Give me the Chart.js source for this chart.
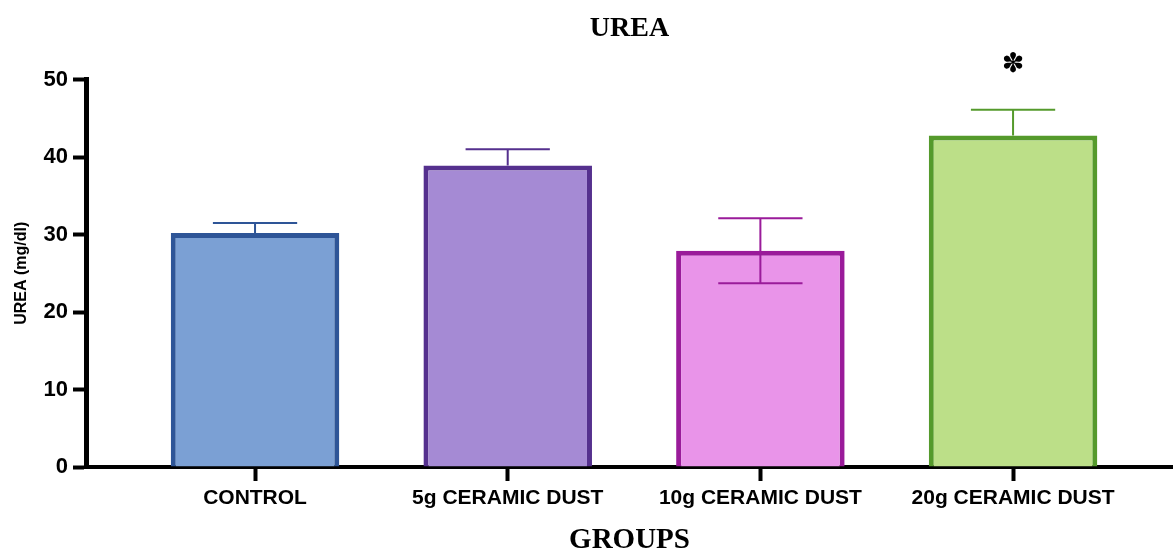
<!DOCTYPE html>
<html>
<head>
<meta charset="utf-8">
<script src="https://cdn.jsdelivr.net/npm/chart.js@4.4.0/dist/chart.umd.min.js"></script>
<style>
html, body { margin: 0; padding: 0; background: #fff; }
#wrap { width: 1173px; height: 555px; }
</style>
</head>
<body>
<div id="wrap"><canvas id="urea_chart"></canvas></div>
<script>
// data
const groups = ['CONTROL', '5g CERAMIC DUST', '10g CERAMIC DUST', '20g CERAMIC DUST'];
const ureaMean = [30.2, 38.9, 27.9, 42.8];
const ureaSD = [1.3, 2.1, 4.2, 3.3];
const showLower = [false, false, true, false];
const stars = ['', '', '', '\u273D'];
const yTicks = [0, 10, 20, 30, 40, 50];

const fillColors = ['#7BA0D4', '#A58AD4', '#E994E9', '#BCDF88'];
const lineColors = ['#2E5597', '#55308E', '#9A1B9A', '#559A2C'];

Chart.defaults.color = '#000';

// error bars + significance marks
const errorBars = {
    id: 'errorBars',
    afterDatasetsDraw(chart) {
        let ctx = chart.ctx;
        let y = chart.scales.y;
        let meta = chart.getDatasetMeta(0);
        ctx.save();
        meta.data.forEach(function (bar, i) {
            let half = bar.width / 4;
            let yMean = y.getPixelForValue(ureaMean[i]);
            let yTop = y.getPixelForValue(ureaMean[i] + ureaSD[i]);
            ctx.strokeStyle = lineColors[i];
            ctx.lineWidth = 2;
            ctx.beginPath();
            ctx.moveTo(bar.x, yMean);
            ctx.lineTo(bar.x, yTop);
            ctx.moveTo(bar.x - half, yTop);
            ctx.lineTo(bar.x + half, yTop);
            if (showLower[i]) {
                let yLow = y.getPixelForValue(ureaMean[i] - ureaSD[i]);
                ctx.moveTo(bar.x, yMean);
                ctx.lineTo(bar.x, yLow);
                ctx.moveTo(bar.x - half, yLow);
                ctx.lineTo(bar.x + half, yLow);
            }
            ctx.stroke();
            if (stars[i]) {
                ctx.fillStyle = '#000';
                ctx.font = 'bold 27px "DejaVu Sans"';
                ctx.textAlign = 'center';
                ctx.textBaseline = 'middle';
                ctx.fillText(stars[i], bar.x, yTop - 45);
            }
        });
        ctx.restore();
    }
};

let ctx = document.getElementById('urea_chart').getContext('2d');
let urea_chart = new Chart(ctx, {
    type: 'bar',
    data: {
        labels: groups,
        datasets: [{
            label: 'UREA',
            data: ureaMean.map((v, i) => ({ x: i, y: v })),
            backgroundColor: fillColors,
            borderColor: lineColors,
            borderWidth: 5,
            borderSkipped: 'bottom',
            barPercentage: 0.667,
            categoryPercentage: 1
        }]
    },
    options: {
        responsive: true,
        maintainAspectRatio: false,
        animation: false,
        layout: { padding: 0 },
        plugins: {
            legend: { display: false },
            tooltip: { enabled: false },
            title: {
                display: true,
                text: 'UREA',
                fullSize: false,
                font: { family: '"Liberation Serif"', size: 28, weight: 'bold', lineHeight: 1.2 },
                padding: { top: 12, bottom: 34 }
            }
        },
        scales: {
            x: {
                type: 'linear',
                offset: false,
                min: -0.669,
                max: 3.633,
                afterBuildTicks: function (scale) {
                    scale.ticks = groups.map((g, i) => ({ value: i }));
                },
                afterFit: function (scale) { scale.height = 88; },
                ticks: {
                    autoSkip: false,
                    maxRotation: 0,
                    padding: 5,
                    font: { family: '"Liberation Sans"', size: 21, weight: 'bold' },
                    callback: function (v) { return groups[v]; }
                },
                grid: { offset: false, drawOnChartArea: false, tickLength: 14, tickWidth: 4, tickColor: '#000' },
                border: { display: true, width: 4, color: '#000' },
                title: {
                    display: true,
                    text: 'GROUPS',
                    font: { family: '"Liberation Serif"', size: 29, weight: 'bold', lineHeight: 1 },
                    padding: { top: 0, bottom: 0 }
                }
            },
            y: {
                min: 0,
                max: 50,
                afterBuildTicks: function (scale) {
                    scale.ticks = yTicks.map(v => ({ value: v }));
                },
                afterFit: function (scale) { scale.width = 86; },
                ticks: {
                    padding: 5,
                    font: { family: '"Liberation Sans"', size: 22, weight: 'bold' }
                },
                grid: { drawOnChartArea: false, tickLength: 13, tickWidth: 4, tickColor: '#000' },
                border: { display: true, width: 5, color: '#000' },
                title: {
                    display: true,
                    text: 'UREA (mg/dl)',
                    font: { family: '"Liberation Sans"', size: 16, weight: 'bold', lineHeight: 1.2 },
                    padding: { top: 12, bottom: 0 }
                }
            }
        }
    },
    plugins: [errorBars]
});
</script>
</body>
</html>
